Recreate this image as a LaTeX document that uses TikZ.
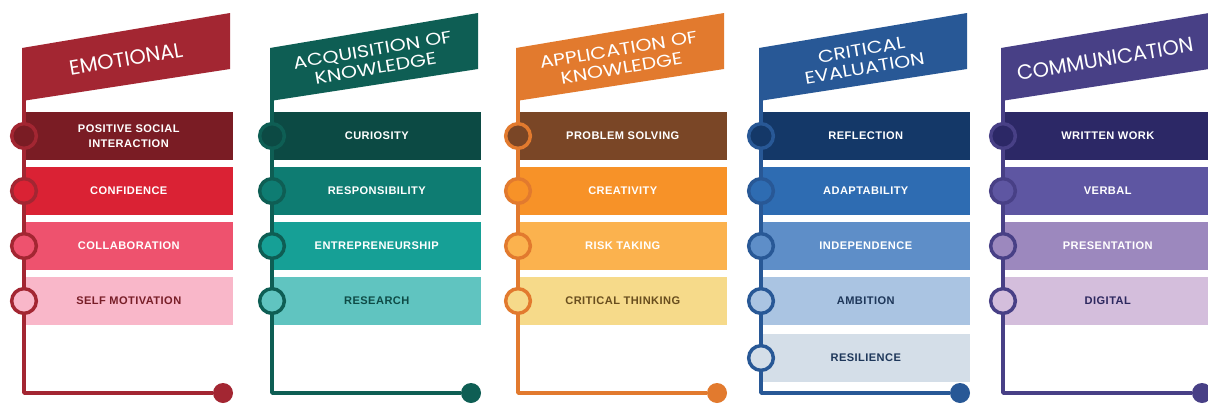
\documentclass[tikz,border=0pt]{standalone}
\usepackage{fontspec}
\setmainfont{Liberation Sans}
\newfontfamily\bannerfont{Poppins}
\newfontfamily\bannerwide[FakeStretch=1.2]{Poppins}
\newfontfamily\boxfont[LetterSpace=4]{Liberation Sans}
\definecolor{r0}{RGB}{163,38,50}\definecolor{r1}{RGB}{122,28,36}\definecolor{r2}{RGB}{218,34,52}
\definecolor{r3}{RGB}{238,82,110}\definecolor{r4}{RGB}{249,183,201}\definecolor{r5}{RGB}{120,30,40}
\definecolor{g0}{RGB}{14,94,84}\definecolor{g1}{RGB}{12,74,68}\definecolor{g2}{RGB}{14,124,114}
\definecolor{g3}{RGB}{22,160,150}\definecolor{g4}{RGB}{96,196,192}\definecolor{g5}{RGB}{14,75,70}
\definecolor{o0}{RGB}{226,122,46}\definecolor{o1}{RGB}{122,70,38}\definecolor{o2}{RGB}{247,146,40}
\definecolor{o3}{RGB}{251,178,78}\definecolor{o4}{RGB}{246,218,138}\definecolor{o5}{RGB}{105,78,30}
\definecolor{b0}{RGB}{40,88,150}\definecolor{b1}{RGB}{20,56,104}\definecolor{b2}{RGB}{46,108,178}
\definecolor{b3}{RGB}{94,142,200}\definecolor{b4}{RGB}{170,196,226}\definecolor{b5}{RGB}{212,222,232}
\definecolor{b6}{RGB}{30,55,90}
\definecolor{p0}{RGB}{72,64,134}\definecolor{p1}{RGB}{44,40,102}\definecolor{p2}{RGB}{94,86,162}
\definecolor{p3}{RGB}{156,136,190}\definecolor{p4}{RGB}{212,190,220}\definecolor{p5}{RGB}{45,40,95}
\begin{document}
\begin{tikzpicture}[x=0.75pt,y=-0.75pt,
 skill/.style={rectangle, inner sep=0pt, minimum width=156.75pt, minimum height=35.5pt, anchor=west,
   text=white, align=center, font=\boxfont\bfseries\fontsize{8.3}{11}\selectfont},
 knob/.style={circle, inner sep=0pt, minimum size=18.5pt, line width=2.6pt},
 track/.style={line width=2.6pt, line join=round},
 enddot/.style={circle, inner sep=0pt, minimum size=15pt},
 bannertext/.style={rotate=9.6, text=white, align=center, inner sep=0pt},
 oneline/.style={font=\bannerfont\fontsize{15.5}{17}\selectfont},
 twoline/.style={font=\bannerwide\fontsize{12.8}{14}\selectfont}]
\useasboundingbox[fill=white] (0,0) rectangle (1208,404);

% ---------- column 1 : EMOTIONAL ----------
\fill[r0] (22,48) -- (230,13) -- (230,69) -- (22,101) -- cycle;
\node[bannertext, oneline] (h1) at (126,59) {EMOTIONAL};
\node[skill, fill=r1] (a1) at (24,136) {POSITIVE SOCIAL\\INTERACTION};
\node[skill, fill=r2] (a2) at (24,191) {CONFIDENCE};
\node[skill, fill=r3] (a3) at (24,246) {COLLABORATION};
\node[skill, fill=r4, text=r5] (a4) at (24,301) {SELF MOTIVATION};
\coordinate (s1) at (24,95); \coordinate (c1) at (24,393);
\node[enddot, fill=r0] (e1) at (223,393) {};
\draw[track, r0] (s1) -- (c1) -- (e1);
\node[knob, draw=r0, fill=r1] (k11) at (a1.west) {};
\node[knob, draw=r0, fill=r2] (k12) at (a2.west) {};
\node[knob, draw=r0, fill=r3] (k13) at (a3.west) {};
\node[knob, draw=r0, fill=r4] (k14) at (a4.west) {};

% ---------- column 2 : ACQUISITION ----------
\fill[g0] (270,48) -- (478,13) -- (478,69) -- (270,101) -- cycle;
\node[bannertext, twoline] (h2) at (374,59) {ACQUISITION OF\\KNOWLEDGE};
\node[skill, fill=g1] (b1) at (272,136) {CURIOSITY};
\node[skill, fill=g2] (b2) at (272,191) {RESPONSIBILITY};
\node[skill, fill=g3] (b3) at (272,246) {ENTREPRENEURSHIP};
\node[skill, fill=g4, text=g5] (b4) at (272,301) {RESEARCH};
\coordinate (s2) at (272,95); \coordinate (c2) at (272,393);
\node[enddot, fill=g0] (e2) at (471,393) {};
\draw[track, g0] (s2) -- (c2) -- (e2);
\node[knob, draw=g0, fill=g1] (k21) at (b1.west) {};
\node[knob, draw=g0, fill=g2] (k22) at (b2.west) {};
\node[knob, draw=g0, fill=g3] (k23) at (b3.west) {};
\node[knob, draw=g0, fill=g4] (k24) at (b4.west) {};

% ---------- column 3 : APPLICATION ----------
\fill[o0] (516,48) -- (724,13) -- (724,69) -- (516,101) -- cycle;
\node[bannertext, twoline] (h3) at (620,59) {APPLICATION OF\\KNOWLEDGE};
\node[skill, fill=o1] (d1) at (518,136) {PROBLEM SOLVING};
\node[skill, fill=o2] (d2) at (518,191) {CREATIVITY};
\node[skill, fill=o3] (d3) at (518,246) {RISK TAKING};
\node[skill, fill=o4, text=o5] (d4) at (518,301) {CRITICAL THINKING};
\coordinate (s3) at (518,95); \coordinate (c3) at (518,393);
\node[enddot, fill=o0] (e3) at (717,393) {};
\draw[track, o0] (s3) -- (c3) -- (e3);
\node[knob, draw=o0, fill=o1] (k31) at (d1.west) {};
\node[knob, draw=o0, fill=o2] (k32) at (d2.west) {};
\node[knob, draw=o0, fill=o3] (k33) at (d3.west) {};
\node[knob, draw=o0, fill=o4] (k34) at (d4.west) {};

% ---------- column 4 : CRITICAL EVALUATION ----------
\fill[b0] (759,48) -- (967,13) -- (967,69) -- (759,101) -- cycle;
\node[bannertext, twoline] (h4) at (863,59) {CRITICAL\\EVALUATION};
\node[skill, fill=b1] (f1) at (761,136) {REFLECTION};
\node[skill, fill=b2] (f2) at (761,191) {ADAPTABILITY};
\node[skill, fill=b3] (f3) at (761,246) {INDEPENDENCE};
\node[skill, fill=b4, text=b6] (f4) at (761,301) {AMBITION};
\node[skill, fill=b5, text=b6] (f5) at (761,358) {RESILIENCE};
\coordinate (s4) at (761,95); \coordinate (c4) at (761,393);
\node[enddot, fill=b0] (e4) at (960,393) {};
\draw[track, b0] (s4) -- (c4) -- (e4);
\node[knob, draw=b0, fill=b1] (k41) at (f1.west) {};
\node[knob, draw=b0, fill=b2] (k42) at (f2.west) {};
\node[knob, draw=b0, fill=b3] (k43) at (f3.west) {};
\node[knob, draw=b0, fill=b4] (k44) at (f4.west) {};
\node[knob, draw=b0, fill=b5] (k45) at (f5.west) {};

% ---------- column 5 : COMMUNICATION ----------
\fill[p0] (1001,48) -- (1209,13) -- (1209,69) -- (1001,101) -- cycle;
\node[bannertext, oneline] (h5) at (1105,59) {COMMUNICATION};
\node[skill, fill=p1] (m1) at (1003,136) {WRITTEN WORK};
\node[skill, fill=p2] (m2) at (1003,191) {VERBAL};
\node[skill, fill=p3] (m3) at (1003,246) {PRESENTATION};
\node[skill, fill=p4, text=p5] (m4) at (1003,301) {DIGITAL};
\coordinate (s5) at (1003,95); \coordinate (c5) at (1003,393);
\node[enddot, fill=p0] (e5) at (1202,393) {};
\draw[track, p0] (s5) -- (c5) -- (e5);
\node[knob, draw=p0, fill=p1] (k51) at (m1.west) {};
\node[knob, draw=p0, fill=p2] (k52) at (m2.west) {};
\node[knob, draw=p0, fill=p3] (k53) at (m3.west) {};
\node[knob, draw=p0, fill=p4] (k54) at (m4.west) {};
\end{tikzpicture}
\end{document}
